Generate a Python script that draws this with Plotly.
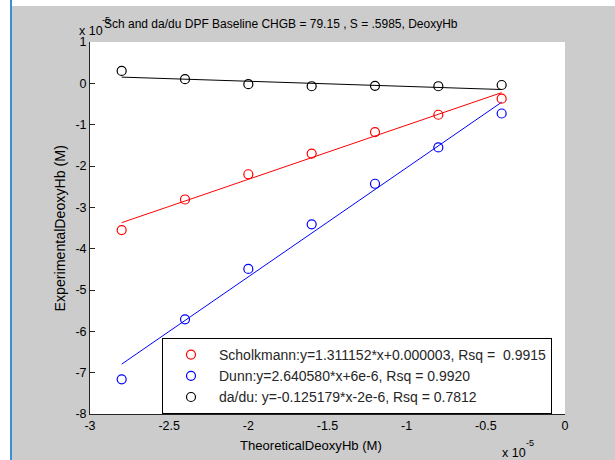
import numpy as np
import plotly.graph_objects as go

# Concentrations are stored in mol/L; the axes are labelled in units of 1e-5
SCALE = 1e-5

theoretical = np.array([-2.8, -2.4, -2.0, -1.6, -1.2, -0.8, -0.4]) * SCALE
scholkmann = np.array([-3.55, -2.81, -2.20, -1.70, -1.18, -0.76, -0.37]) * SCALE
dunn = np.array([-7.16, -5.71, -4.49, -3.41, -2.43, -1.55, -0.73]) * SCALE
dadu = np.array([0.30, 0.10, -0.02, -0.07, -0.06, -0.07, -0.04]) * SCALE

# Linear fits (slope, intercept) reported for each method
scholkmann_fit = (1.311152, 0.000003)
dunn_fit = (2.640580, 6e-6)
dadu_fit = (-0.125179, -2e-6)

legend_labels = [
    "Scholkmann:y=1.311152*x+0.000003, Rsq =\u00a0 0.9915",
    "Dunn:y=2.640580*x+6e-6, Rsq = 0.9920",
    "da/du: y=-0.125179*x-2e-6, Rsq = 0.7812",
]
colors = ["#ff0000", "#0000ff", "#000000"]

x_ticks = [-3, -2.5, -2, -1.5, -1, -0.5, 0]
x_ticktext = ["-3", "-2.5", "-2", "-1.5", "-1", "-0.5", "0"]
y_ticks = [1, 0, -1, -2, -3, -4, -5, -6, -7, -8]
y_ticktext = ["1", "0", "-1", "-2", "-3", "-4", "-5", "-6", "-7", "-8"]

title_text = "Sch and da/du DPF Baseline CHGB = 79.15 , S = .5985, DeoxyHb"

W, H = 615, 460
L, R, T, B = 90, 565, 42, 414  # plot-area edges in pixels
FONT = "Liberation Sans, Arial, sans-serif"


def px(x):
    return (x - L) / (R - L)


def py(y):
    return (B - y) / (B - T)


fig = go.Figure()

series = [scholkmann, dunn, dadu]
fits = [scholkmann_fit, dunn_fit, dadu_fit]

# fitted lines
for vals, (slope, icpt), col in zip(series, fits, colors):
    fig.add_trace(go.Scatter(
        x=theoretical, y=slope * theoretical + icpt, mode="lines",
        line=dict(color=col, width=1), showlegend=False, hoverinfo="skip"))

# measured points
for vals, name, col in zip(series, legend_labels, colors):
    fig.add_trace(go.Scatter(
        x=theoretical, y=vals, mode="markers", name=name,
        marker=dict(symbol="circle-open", size=9, color=col,
                    line=dict(color=col, width=1.2))))

axis_common = dict(
    showline=True, linecolor="#262626", linewidth=1, mirror=False,
    ticks="inside", ticklen=5, tickwidth=1, tickcolor="#262626",
    showgrid=False, zeroline=False,
    tickfont=dict(family=FONT, size=12.5, color="#000000"),
)

fig.update_xaxes(range=[-3 * SCALE, 0], tickvals=[v * SCALE for v in x_ticks],
                 ticktext=x_ticktext, **axis_common)
fig.update_yaxes(range=[-8 * SCALE, 1 * SCALE], tickvals=[v * SCALE for v in y_ticks],
                 ticktext=y_ticktext, **axis_common)

annotations = [
    dict(text=title_text, x=px(281), y=py(24), xanchor="center", yanchor="middle",
         font=dict(size=12, color="#000000")),
    dict(text="x 10", x=px(77), y=py(31), xanchor="left", yanchor="middle",
         font=dict(size=12.5, color="#000000")),
    dict(text="-5", x=px(100), y=py(20), xanchor="left", yanchor="middle",
         font=dict(size=9, color="#000000")),
    dict(text="x 10", x=px(500), y=py(453), xanchor="left", yanchor="middle",
         font=dict(size=12.5, color="#000000")),
    dict(text="-5", x=px(524), y=py(443), xanchor="left", yanchor="middle",
         font=dict(size=9, color="#000000")),
    dict(text="TheoreticalDeoxyHb (M)", x=px(311), y=py(445), xanchor="center",
         yanchor="middle", font=dict(size=13.1, color="#000000")),
    dict(text="ExperimentalDeoxyHb (M)", x=px(59), y=py(228.5), xanchor="center",
         yanchor="middle", textangle=-90, font=dict(size=14.2, color="#000000")),
]
for a in annotations:
    a.update(xref="paper", yref="paper", showarrow=False)

shapes = [
    # window edge strips
    dict(type="rect", x0=px(0), x1=px(10), y0=py(0), y1=py(H), fillcolor="#ffffff",
         line=dict(width=0), layer="below"),
    dict(type="rect", x0=px(0), x1=px(W), y0=py(0), y1=py(6), fillcolor="#ffffff",
         line=dict(width=0), layer="below"),
    dict(type="line", x0=px(11), x1=px(11), y0=py(0), y1=py(H),
         line=dict(color="#3a8fd6", width=2)),
]
for s in shapes:
    s.update(xref="paper", yref="paper")

fig.update_layout(
    width=W, height=H,
    margin=dict(l=L, r=W - R, t=T, b=H - B, autoexpand=False),
    paper_bgcolor="#cccccc", plot_bgcolor="#ffffff",
    font=dict(family=FONT, size=12, color="#000000"),
    showlegend=True,
    legend=dict(x=px(162), y=py(338), xanchor="left", yanchor="top",
                bgcolor="#ffffff", bordercolor="#000000", borderwidth=1,
                font=dict(family=FONT, size=14, color="#262626"),
                itemwidth=46, tracegroupgap=0),
    annotations=annotations, shapes=shapes,
)

fig.write_html("out.html", config={"displayModeBar": False})
